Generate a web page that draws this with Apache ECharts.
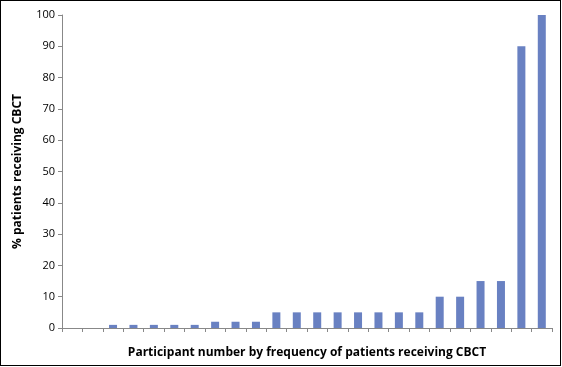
<!DOCTYPE html>
<html><head><meta charset="utf-8">
<script src="https://cdn.jsdelivr.net/npm/echarts@6/dist/echarts.min.js"></script>
<style>
html,body{margin:0;padding:0;background:#fff;}
#frame{position:absolute;left:0;top:0;width:559px;height:364px;border:1.5px solid #000;}
#c{position:absolute;left:0;top:0;width:562px;height:367px;}
</style></head><body>
<div id="frame"></div>
<div id="c"></div>
<script>
const categories = ["1","2","3","4","5","6","7","8","9","10","11","12","13","14","15","16","17","18","19","20","21","22","23","24"];
const values = [0,0,1,1,1,1,1,2,2,2,5,5,5,5,5,5,5,5,10,10,15,15,90,100];
const yTicks = [0,10,20,30,40,50,60,70,80,90,100];
const xTitle = "Participant number by frequency of patients receiving CBCT";
const yTitle = "% patients receiving CBCT";

const chart = echarts.init(document.getElementById('c'), null, {renderer:'canvas'});
const font = "Open Sans";
chart.setOption({
  animation:false,
  grid:{left:62,right:10,top:15,bottom:39,containLabel:false},
  xAxis:{
    type:'category', data:categories,
    axisLine:{lineStyle:{color:'#888',width:1}},
    axisTick:{show:true,alignWithLabel:false,length:4,lineStyle:{color:'#888'}},
    axisLabel:{show:false},
    name:xTitle, nameLocation:'middle', nameGap:19,
    nameTextStyle:{fontFamily:font,fontWeight:'bold',fontSize:12,color:'#000'}
  },
  yAxis:{
    type:'value', min:yTicks[0], max:yTicks[yTicks.length-1], interval:10,
    splitLine:{show:false},
    axisLine:{show:true,lineStyle:{color:'#888',width:1}},
    axisTick:{show:true,length:4,lineStyle:{color:'#888'}},
    axisLabel:{fontFamily:font,fontSize:11,color:'#000',margin:7},
    name:yTitle, nameLocation:'middle', nameGap:38, nameRotate:90,
    nameTextStyle:{fontFamily:font,fontWeight:'bold',fontSize:12,color:'#000'}
  },
  series:[{
    type:'bar', data:values, barWidth:8,
    itemStyle:{color:'#6981C2'}
  }]
});
</script>
</body></html>
